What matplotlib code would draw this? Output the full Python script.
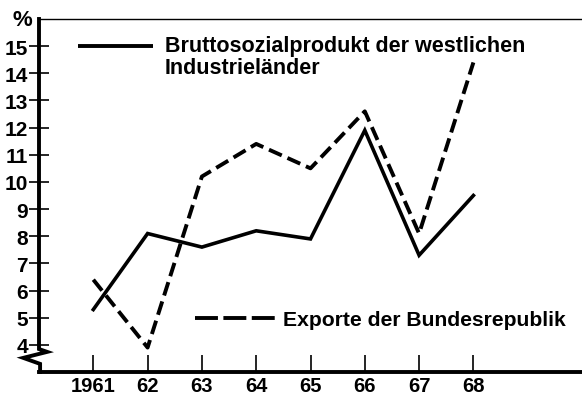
import matplotlib.pyplot as plt

plt.rcParams['font.family'] = ['Liberation Sans', 'DejaVu Sans']
plt.rcParams['font.weight'] = 'bold'
narrow = ['Liberation Sans Narrow', 'Liberation Sans', 'DejaVu Sans']

years = [1961, 1962, 1963, 1964, 1965, 1966, 1967, 1968]
year_labels = ['1961', '62', '63', '64', '65', '66', '67', '68']
bsp = [5.3, 8.1, 7.6, 8.2, 7.9, 11.9, 7.3, 9.5]
exporte = [6.4, 3.9, 10.2, 11.4, 10.5, 12.6, 8.1, 14.4]
y_ticks = list(range(4, 16))

fig = plt.figure(figsize=(5.82, 4.02), dpi=100)
ax = fig.add_axes([39 / 582, 29 / 402, 543 / 582, 353 / 402])

ax.plot(years, bsp, color='black', lw=2.6, solid_joinstyle='miter')
ax.plot(years, exporte, color='black', lw=2.8, dashes=(3.6, 1.6))

ax.set_xlim(1960, 1970)
ax.set_ylim(3, 16)

# spines
ax.spines['right'].set_visible(False)
ax.spines['left'].set_visible(False)
ax.spines['top'].set_linewidth(1.0)
ax.spines['bottom'].set_linewidth(2.8)

# left axis with break zigzag
ax.plot([0, 0, 0.015, -0.029, 0.002, 0.002],
        [1, 0.065, 0.057, 0.040, 0.023, 0],
        transform=ax.transAxes, color='black', lw=2.8, clip_on=False,
        solid_joinstyle='miter')

ax.set_xticks(years)
ax.set_xticklabels(year_labels, fontsize=14.5, fontweight='bold', family=narrow)
ax.tick_params(axis='x', direction='in', length=12, width=1.2, pad=3)

ax.set_yticks(y_ticks)
ax.set_yticklabels([str(v) for v in y_ticks], fontsize=15, fontweight='bold',
                   family=narrow)
ax.tick_params(axis='y', direction='inout', length=14, width=1.2, pad=1)

# legend, drawn by hand
ax.plot([0.072, 0.210], [0.924, 0.924], transform=ax.transAxes,
        color='black', lw=2.8, solid_capstyle='butt')
ax.text(0.232, 0.909, 'Bruttosozialprodukt der westlichen',
        transform=ax.transAxes, fontsize=15.5, fontweight='bold', va='baseline')
ax.text(0.232, 0.847, 'Industrieländer',
        transform=ax.transAxes, fontsize=15.5, fontweight='bold', va='baseline')
ax.plot([0.287, 0.444], [0.153, 0.153], transform=ax.transAxes,
        color='black', lw=2.8, dashes=(5.9, 1.4), dash_capstyle='butt')
ax.text(0.449, 0.133, 'Exporte der Bundesrepublik',
        transform=ax.transAxes, fontsize=15.2, fontweight='bold', va='baseline')

fig.text(22 / 582, 1 - 21 / 402, '%', fontsize=16, fontweight='bold',
         ha='center', va='center')

fig.savefig('out.png', dpi=100)
